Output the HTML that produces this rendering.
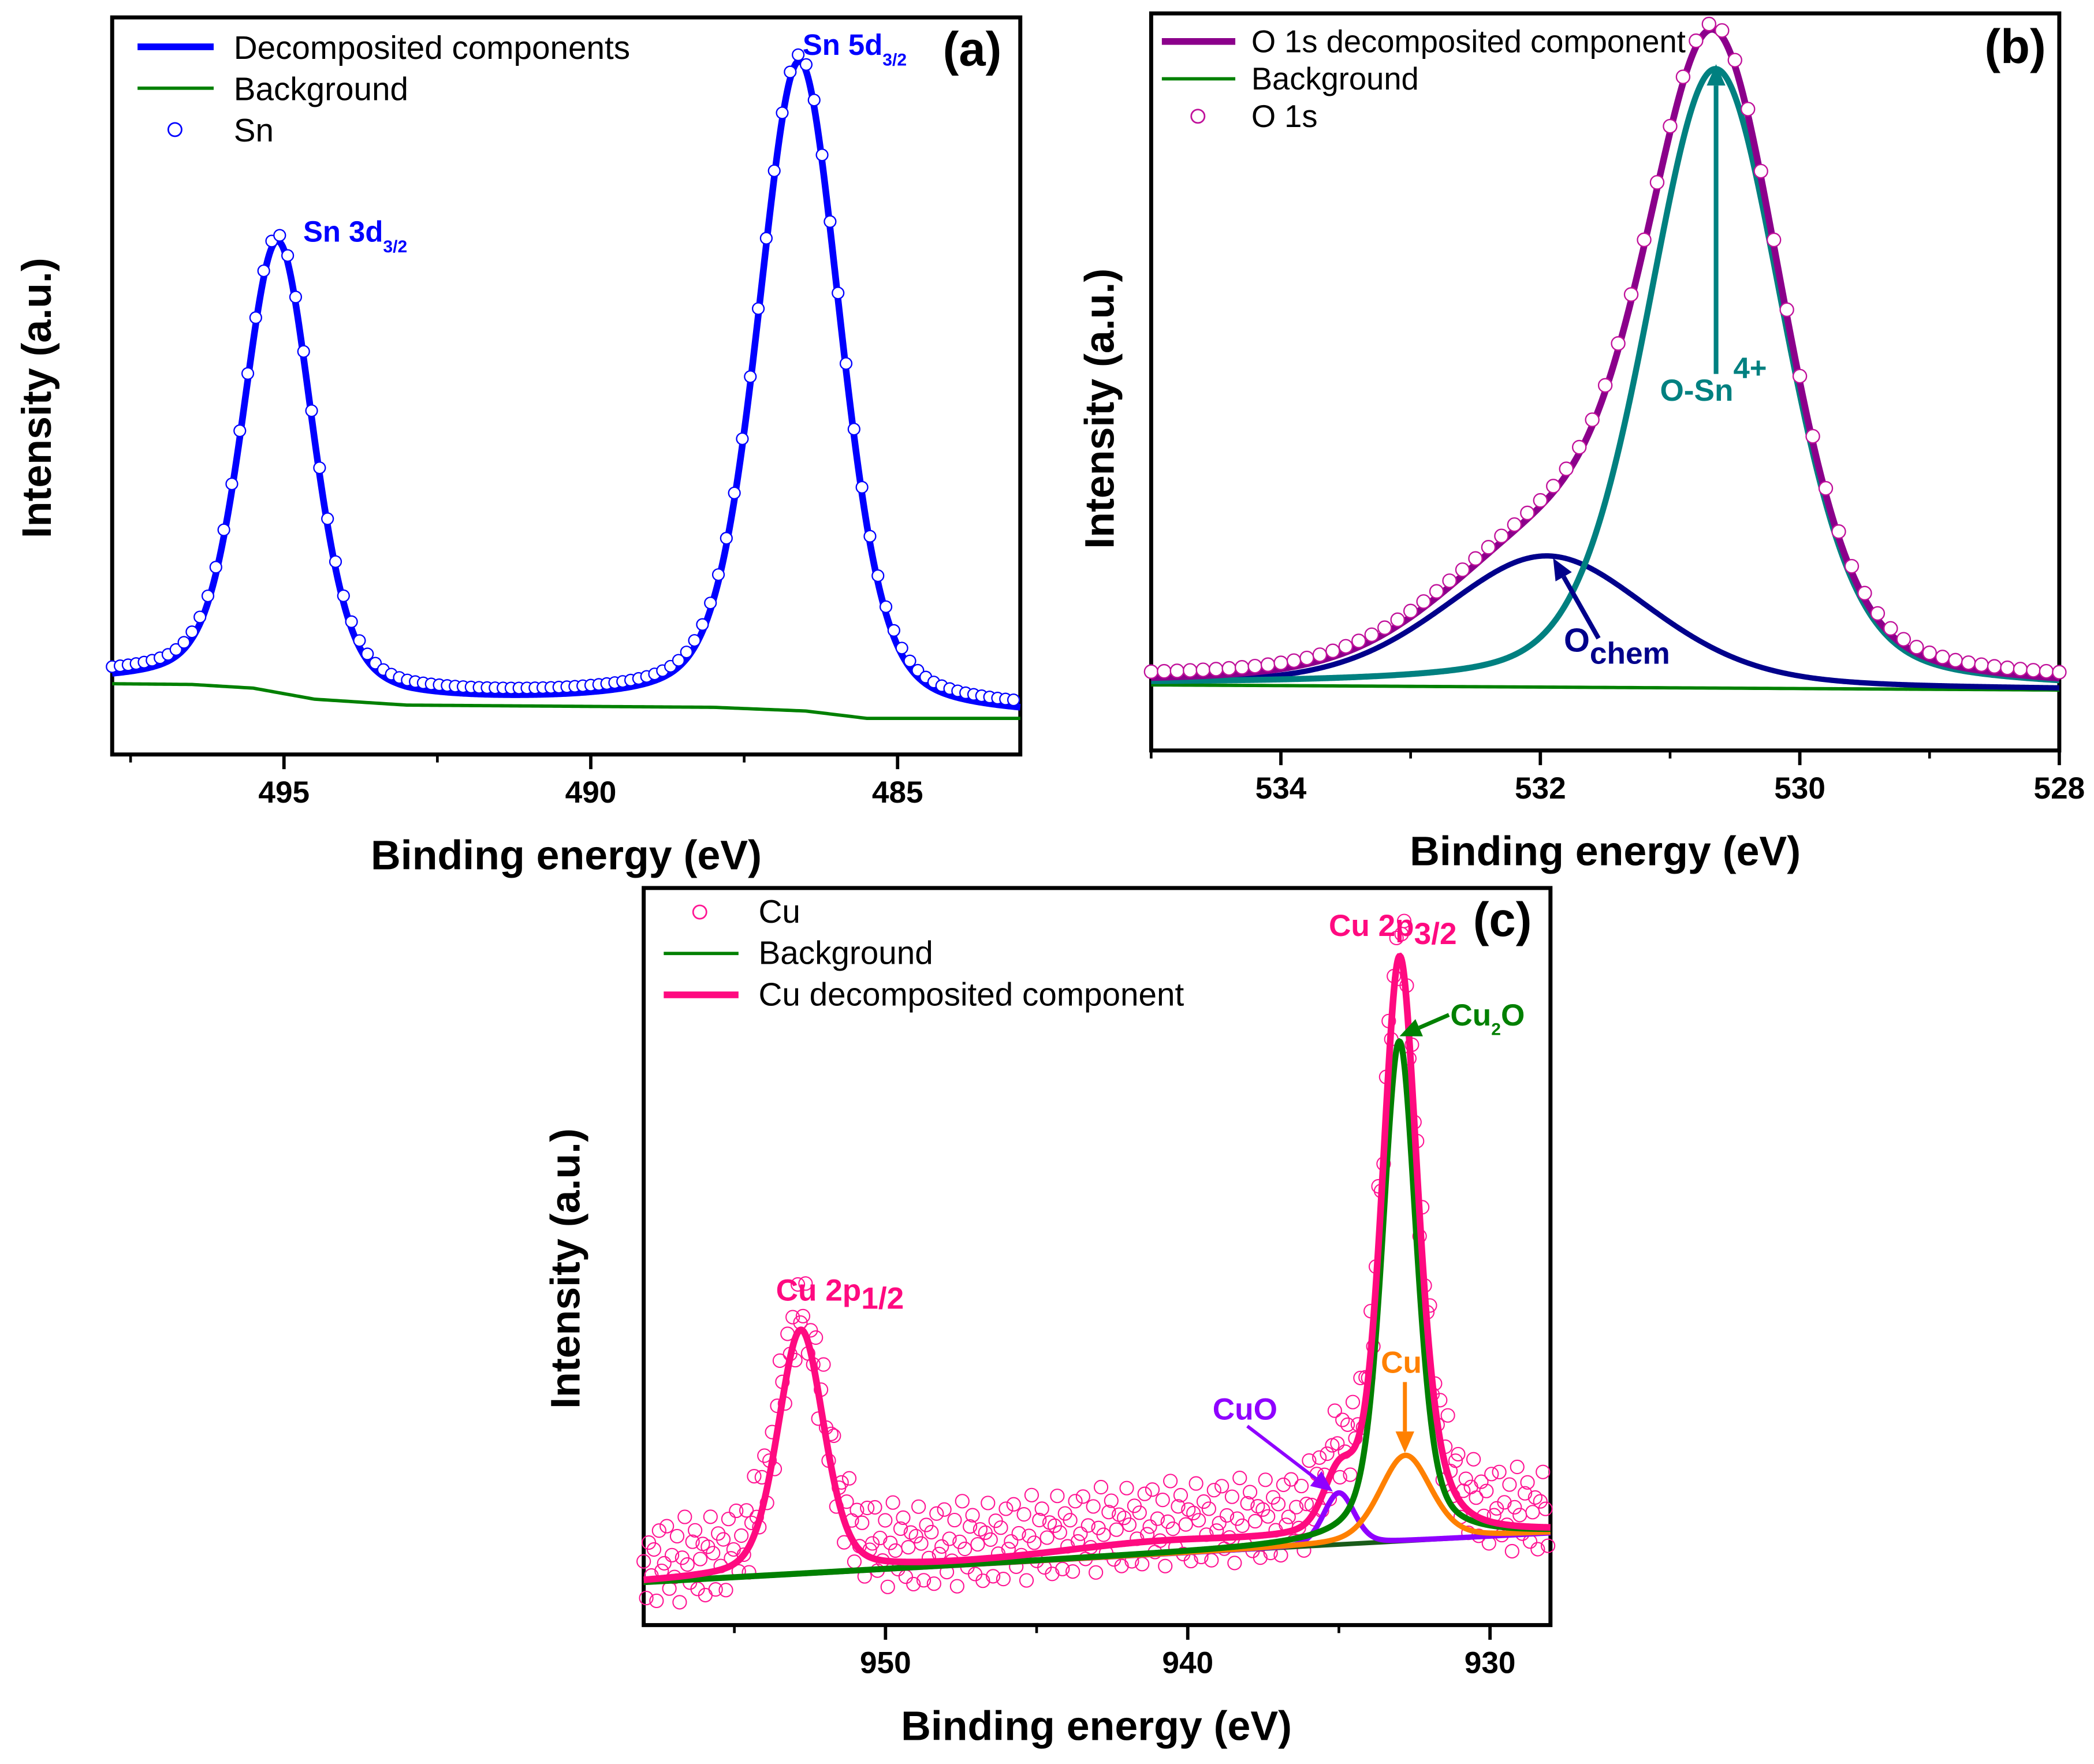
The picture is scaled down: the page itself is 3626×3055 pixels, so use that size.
<!DOCTYPE html>
<html><head><meta charset="utf-8"><style>
html,body{margin:0;padding:0;background:#fff;}
svg{display:block;font-family:"Liberation Sans",Arial,sans-serif;}
</style></head><body>
<svg id="fig" xmlns="http://www.w3.org/2000/svg" width="3626" height="3055" viewBox="0 0 1568 1321">
<rect width="1568" height="1321" fill="#fff"/>
</svg>
<script>
// ---------- Panel (a) data ----------
const aPeakNames = ["Sn 3d3/2","Sn 5d3/2"];
const aPeakCenters = [495.1, 486.6];
const aPeakAmps = [61, 88];
const aPeakFwhm = [1.35, 1.6];
const aBgEnergies = [497.8, 496.5, 495.5, 494.5, 493, 488, 486.5, 485.5, 483];
const aBgValues = [9.6, 9.5, 9.0, 7.5, 6.7, 6.4, 5.9, 4.9, 4.9];
const aTicks = [495, 490, 485];
const aTickLabels = ["495","490","485"];
const aMinorTicks = [497.5, 492.5, 487.5];
// ---------- Panel (b) data ----------
const bPeakNames = ["O-Sn4+","O chem"];
const bPeakCenters = [530.65, 531.95];
const bPeakAmps = [84, 17.8];
const bPeakFwhm = [1.25, 1.9];
const bBgEnergies = [535, 528];
const bBgValues = [8.9, 8.2];
const bTicks = [534, 532, 530, 528];
const bTickLabels = ["534","532","530","528"];
const bMinorTicks = [535, 533, 531, 529];
// ---------- Panel (c) data ----------
const cPeakNames = ["Cu 2p1/2","Cu2O","Cu","CuO","satellite"];
const cPeakCenters = [952.8, 933.0, 932.8, 935.0, 941.0];
const cPeakAmps = [33, 67.8, 11.6, 7, 1.5];
const cPeakFwhm = [1.8, 1.35, 2.0, 1.2, 8];
const cBgEnergies = [958, 928];
const cBgValues = [5.8, 12.5];
const cTicks = [950, 940, 930];
const cTickLabels = ["950","940","930"];
const cMinorTicks = [955, 945, 935];
const cNoise = [2.5,-2.5,5.0,0.5,4.0,-3.0,6.5,1.0,2.0,7.0,-1.5,3.0,0.0,5.5,-3.5,2.5,8.0,1.5,-1.0,4.5,6.0,-2.0,2.0,4.0,-3.0,3.5,7.5];

const NS = "http://www.w3.org/2000/svg";
const fig = document.getElementById("fig");
function mk(tag, attrs, parent){
  const e = document.createElementNS(NS, tag);
  for (const k in attrs) e.setAttribute(k, attrs[k]);
  (parent||fig).appendChild(e);
  return e;
}
function pv(x,c,a,w,eta){const t=(x-c)/w;return a*(eta*1/(1+4*t*t)+(1-eta)*Math.exp(-4*Math.LN2*t*t));}
function interp(xs,ys,x){
  for(let i=0;i<xs.length-1;i++){
    const a=xs[i],b=xs[i+1];
    if((x<=a&&x>=b)||(x>=a&&x<=b)){const f=(x-a)/(b-a);return ys[i]+f*(ys[i+1]-ys[i]);}
  }
  return x>xs[0]===(xs[0]>xs[xs.length-1])?ys[0]:ys[ys.length-1];
}
function makeAxes(b){
  const sx = e => b.x0 + (b.e0 - e)/(b.e0-b.e1)*(b.x1-b.x0);
  const sy = v => b.y1 - v/100*(b.y1-b.y0);
  return {sx,sy};
}
function pathFrom(fn, ax, b, step){
  let d="";
  for(let e=b.e0; e>=b.e1-1e-9; e-=step){
    const px=ax.sx(e), py=ax.sy(fn(e));
    d += (d?"L":"M")+px.toFixed(2)+","+py.toFixed(2);
  }
  return d;
}
function frame(g,b,ticks,labels,minor,lblY,name){
  const r = mk("rect",{x:b.x0,y:b.y0,width:b.x1-b.x0,height:b.y1-b.y0,fill:"none",stroke:"#000","stroke-width":3},g);
  
  
  const ax = makeAxes(b);
  ticks.forEach((t,i)=>{
    const x=ax.sx(t);
    const l=mk("line",{x1:x,x2:x,y1:b.y1,y2:b.y1+11,stroke:"#000","stroke-width":2.5},g);
    
    
    const tx=mk("text",{x:x,y:lblY,"text-anchor":"middle","font-size":23,"font-weight":"bold"},g);
    tx.textContent=labels[i];
    
    
  });
  minor.forEach(t=>{
    const x=ax.sx(t);
    if(x<b.x0-1||x>b.x1+1) return;
    const l=mk("line",{x1:x,x2:x,y1:b.y1,y2:b.y1+6,stroke:"#000","stroke-width":2},g);
    
    
  });
  return ax;
}
function txt(g,x,y,s,size,color,name,extra){
  const t=mk("text",Object.assign({x:x,y:y,"font-size":size,fill:color},extra||{}),g);
  t.innerHTML=s;
  
  
  return t;
}
function arrow(g,x1,y1,x2,y2,color,w,name){
  const ang=Math.atan2(y2-y1,x2-x1), L=16, W=7;
  const bx=x2-L*Math.cos(ang), by=y2-L*Math.sin(ang);
  const l=mk("line",{x1:x1,y1:y1,x2:bx,y2:by,stroke:color,"stroke-width":w},g);
  
  
  const p=mk("polygon",{points:`${x2},${y2} ${bx+W*Math.sin(ang)},${by-W*Math.cos(ang)} ${bx-W*Math.sin(ang)},${by+W*Math.cos(ang)}`,fill:color},g);
  
  
}
const TT = {"font-weight":"bold","text-anchor":"middle"};

// ================= Panel (a) =================
{
  const g=mk("g",{});
  
  
  const b={x0:84,x1:764,y0:13,y1:565,e0:497.8,e1:483};
  const ax=frame(g,b,aTicks,aTickLabels,aMinorTicks,601,"panel-a");
  const bg=e=>interp(aBgEnergies,aBgValues,e);
  const tot=e=>{let s=bg(e);for(let i=0;i<aPeakCenters.length;i++)s+=pv(e,aPeakCenters[i],aPeakAmps[i],aPeakFwhm[i],0.35);return s;};
  const bgp=mk("path",{d:pathFrom(bg,ax,b,0.05),fill:"none",stroke:"#008000","stroke-width":2.5},g);
  
  
  const fit=mk("path",{d:pathFrom(tot,ax,b,0.02),fill:"none",stroke:"#0000ff","stroke-width":5},g);
  
  
  for(let e=b.e0; e>=b.e1; e-=0.13){
    const c=mk("circle",{cx:ax.sx(e),cy:ax.sy(tot(e)+0.9),r:4.3,fill:"#fff",stroke:"#0000ff","stroke-width":1},g);
    
    
  }
  const l1=mk("line",{x1:103,x2:160,y1:35,y2:35,stroke:"#0000ff","stroke-width":5},g);
  
  
  txt(g,175,44,"Decomposited components",24.5,"#000","legend-decomposed-label");
  const l2=mk("line",{x1:103,x2:160,y1:66,y2:66,stroke:"#008000","stroke-width":2.5},g);
  
  
  txt(g,175,75,"Background",24.5,"#000","legend-background-label");
  const l3=mk("circle",{cx:131,cy:97,r:5,fill:"#fff",stroke:"#0000ff","stroke-width":1.2},g);
  
  
  txt(g,175,106,"Sn",24.5,"#000","legend-sn-label");
  txt(g,227,181,'Sn 3d<tspan font-size="13" dy="8">3/2</tspan>',22,"#0000ff","sn3d-peak-label",{"font-weight":"bold"});
  txt(g,601,41,'Sn 5d<tspan font-size="13" dy="8">3/2</tspan>',22,"#0000ff","sn5d-peak-label",{"font-weight":"bold"});
  txt(g,706,49,"(a)",36,"#000","panel-a-letter",{"font-weight":"bold"});
  txt(g,424,651,"Binding energy (eV)",31,"#000","x-axis-title-a",TT);
  txt(g,0,0,"Intensity (a.u.)",31,"#000","y-axis-title-a",Object.assign({transform:"translate(38,298) rotate(-90)"},TT));
}

// ================= Panel (b) =================
{
  const g=mk("g",{});
  
  
  const b={x0:862,x1:1542,y0:10,y1:562,e0:535,e1:528};
  const ax=frame(g,b,bTicks,bTickLabels,bMinorTicks,598,"panel-b");
  const bg=e=>interp(bBgEnergies,bBgValues,e);
  const comp=i=>e=>bg(e)+pv(e,bPeakCenters[i],bPeakAmps[i],bPeakFwhm[i],0.3);
  const tot=e=>{let s=bg(e);for(let i=0;i<bPeakCenters.length;i++)s+=pv(e,bPeakCenters[i],bPeakAmps[i],bPeakFwhm[i],0.3);return s;};
  const bgp=mk("path",{d:pathFrom(bg,ax,b,0.05),fill:"none",stroke:"#008000","stroke-width":2.5},g);
  
  
  const p1=mk("path",{d:pathFrom(comp(1),ax,b,0.01),fill:"none",stroke:"#00008b","stroke-width":4},g);
  
  
  const p0=mk("path",{d:pathFrom(comp(0),ax,b,0.01),fill:"none",stroke:"#008080","stroke-width":4.5},g);
  
  
  const ps=mk("path",{d:pathFrom(tot,ax,b,0.01),fill:"none",stroke:"#8b008b","stroke-width":5},g);
  
  
  for(let e=b.e0; e>=b.e1-1e-9; e-=0.1){
    const c=mk("circle",{cx:ax.sx(e),cy:ax.sy(tot(e)+0.8),r:5,fill:"#fff",stroke:"#c0109a","stroke-width":1},g);
    
    
  }
  const l1=mk("line",{x1:870,x2:925,y1:31,y2:31,stroke:"#8b008b","stroke-width":5},g);
  
  
  txt(g,937,39,"O 1s decomposited component",23.5,"#000","legend-o1s-decomposed-label");
  const l2=mk("line",{x1:870,x2:925,y1:59,y2:59,stroke:"#008000","stroke-width":2.5},g);
  
  
  txt(g,937,67,"Background",23.5,"#000","legend-background-label-b");
  const l3=mk("circle",{cx:897,cy:87,r:5,fill:"#fff",stroke:"#c0109a","stroke-width":1.2},g);
  
  
  txt(g,937,95,"O 1s",23.5,"#000","legend-o1s-label");
  arrow(g,1285,280,1285,48,"#008080",3.5,"o-sn-arrow");
  txt(g,1243,300,'O-Sn<tspan font-size="22" dy="-17">4+</tspan>',23,"#008080","o-sn-label",{"font-weight":"bold"});
  arrow(g,1197,478,1163,418,"#00008b",3.5,"o-chem-arrow");
  txt(g,1171,488,'O<tspan font-size="23" dy="9">chem</tspan>',25,"#00008b","o-chem-label",{"font-weight":"bold"});
  txt(g,1486,47,"(b)",36,"#000","panel-b-letter",{"font-weight":"bold"});
  txt(g,1202,648,"Binding energy (eV)",31,"#000","x-axis-title-b",TT);
  txt(g,0,0,"Intensity (a.u.)",31,"#000","y-axis-title-b",Object.assign({transform:"translate(834,306) rotate(-90)"},TT));
}

// ================= Panel (c) =================
{
  const g=mk("g",{});
  
  
  const b={x0:482,x1:1161,y0:665,y1:1217,e0:958,e1:928};
  const ax=frame(g,b,cTicks,cTickLabels,cMinorTicks,1253,"panel-c");
  const eta=[0.3,0.45,0.3,0.2,0.3];
  const bg=e=>interp(cBgEnergies,cBgValues,e);
  const comp=i=>e=>bg(e)+pv(e,cPeakCenters[i],cPeakAmps[i],cPeakFwhm[i],eta[i]);
  const tot=e=>{let s=bg(e);for(let i=0;i<cPeakCenters.length;i++)s+=pv(e,cPeakCenters[i],cPeakAmps[i],cPeakFwhm[i],eta[i]);return s;};
  let k=0;
  for(let e=b.e0; e>=b.e1-1e-9; e-=0.085){
    const c=mk("circle",{cx:ax.sx(e),cy:ax.sy(tot(e)+cNoise[k%cNoise.length]),r:5,fill:"none",stroke:"#ff1493","stroke-width":0.9},g);
    
    
    k++;
  }
  const bgp=mk("path",{d:pathFrom(bg,ax,b,0.5),fill:"none",stroke:"#1a5c1a","stroke-width":3.5},g);
  
  
  const pc=mk("path",{d:pathFrom(comp(3),ax,b,0.02),fill:"none",stroke:"#8f00ff","stroke-width":4},g);
  
  
  const po=mk("path",{d:pathFrom(comp(2),ax,b,0.02),fill:"none",stroke:"#ff8000","stroke-width":4},g);
  
  
  const pg=mk("path",{d:pathFrom(comp(1),ax,b,0.02),fill:"none",stroke:"#008000","stroke-width":4.5},g);
  
  
  const ps=mk("path",{d:pathFrom(tot,ax,b,0.02),fill:"none",stroke:"#ff0a80","stroke-width":5},g);
  
  
  const l1=mk("circle",{cx:524,cy:683,r:5,fill:"#fff",stroke:"#ff1493","stroke-width":1.2},g);
  
  
  txt(g,568,691,"Cu",24.5,"#000","legend-cu-label");
  const l2=mk("line",{x1:497,x2:553,y1:714,y2:714,stroke:"#008000","stroke-width":2.5},g);
  
  
  txt(g,568,722,"Background",24.5,"#000","legend-background-label-c");
  const l3=mk("line",{x1:497,x2:553,y1:745,y2:745,stroke:"#ff0a80","stroke-width":5},g);
  
  
  txt(g,568,753,"Cu decomposited component",24.5,"#000","legend-cu-decomposed-label");
  txt(g,995,701,'Cu 2p<tspan font-size="23" dy="6">3/2</tspan>',23,"#ff0a80","cu2p32-label",{"font-weight":"bold"});
  txt(g,581,974,'Cu 2p<tspan font-size="23" dy="6">1/2</tspan>',23,"#ff0a80","cu2p12-label",{"font-weight":"bold"});
  txt(g,1086,768,'Cu<tspan font-size="13" dy="7">2</tspan><tspan dy="-7">O</tspan>',23,"#008000","cu2o-label",{"font-weight":"bold"});
  arrow(g,1085,760,1048,776,"#008000",3,"cu2o-arrow");
  txt(g,1034,1028,"Cu",23,"#ff8000","cu-label",{"font-weight":"bold"});
  arrow(g,1052,1035,1052,1088,"#ff8000",3,"cu-arrow");
  txt(g,908,1063,"CuO",23,"#8f00ff","cuo-label",{"font-weight":"bold"});
  arrow(g,934,1068,998,1117,"#8f00ff",2.5,"cuo-arrow");
  txt(g,1103,701,"(c)",36,"#000","panel-c-letter",{"font-weight":"bold"});
  txt(g,821,1303,"Binding energy (eV)",31,"#000","x-axis-title-c",TT);
  txt(g,0,0,"Intensity (a.u.)",31,"#000","y-axis-title-c",Object.assign({transform:"translate(434,950) rotate(-90)"},TT));
}
</script>
</body></html>
